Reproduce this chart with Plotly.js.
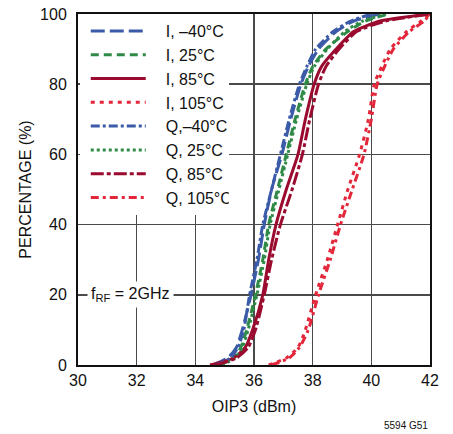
<!DOCTYPE html>
<html>
<head>
<meta charset="utf-8">
<script src="https://cdn.plot.ly/plotly-3.0.1.min.js"></script>
<style>html,body{margin:0;padding:0;background:#fff;}#chart{width:453px;height:434px;}</style>
</head>
<body>
<div id="chart"></div>
<script>
// Cumulative percentage levels
var percentLevels = [0, 2, 5, 10, 20, 30, 40, 50, 60, 70, 80, 85, 90, 95, 98, 100];
// OIP3 (dBm) at each percentage level, per series
var iMinus40 = [34.6, 35.1, 35.4, 35.6, 35.9, 36.15, 36.35, 36.6, 36.95, 37.25, 37.6, 37.85, 38.2, 38.8, 39.4, 40.3];
var i25      = [34.8, 35.3, 35.55, 35.75, 36.05, 36.3, 36.5, 36.8, 37.1, 37.4, 37.75, 38.0, 38.45, 39.2, 39.8, 40.6];
var i85      = [34.5, 35.3, 35.7, 35.95, 36.3, 36.5, 36.75, 37.1, 37.5, 37.75, 38.05, 38.3, 38.8, 39.4, 40.3, 42.0];
var i105     = [36.5, 37.1, 37.5, 37.75, 38.1, 38.5, 38.85, 39.2, 39.6, 39.9, 40.1, 40.35, 40.65, 41.2, 41.7, 42.0];
var qMinus40 = [34.7, 35.2, 35.45, 35.65, 35.85, 36.1, 36.3, 36.6, 36.9, 37.2, 37.55, 37.8, 38.1, 38.7, 39.3, 40.0];
var q25      = [34.9, 35.35, 35.6, 35.8, 36.1, 36.35, 36.55, 36.85, 37.15, 37.45, 37.8, 38.05, 38.5, 39.1, 39.7, 40.5];
var q85      = [34.7, 35.4, 35.8, 36.05, 36.35, 36.6, 36.9, 37.3, 37.65, 37.9, 38.2, 38.45, 38.9, 39.5, 40.5, 42.0];
var q105     = [36.6, 37.2, 37.55, 37.85, 38.2, 38.6, 38.95, 39.35, 39.75, 40.0, 40.2, 40.45, 40.75, 41.3, 41.8, 42.0];

var seriesNames = ["I, \u201340\u00b0C", "I, 25\u00b0C", "I, 85\u00b0C", "I, 105\u00b0C",
                   "Q,\u201340\u00b0C", "Q, 25\u00b0C", "Q, 85\u00b0C", "Q, 105\u00b0C"];
var seriesData = [iMinus40, i25, i85, i105, qMinus40, q25, q85, q105];
var xTicks = [30, 32, 34, 36, 38, 40, 42];
var yTicks = [0, 20, 40, 60, 80, 100];

var BLUE = "#3b5ba9", GREEN = "#2f8a47", DRED = "#9a0b2f", RED = "#e3263a";
var styles = [
  {color: BLUE,  dash: "14px,5px"},
  {color: GREEN, dash: "8px,5px"},
  {color: DRED,  dash: "solid"},
  {color: RED,   dash: "4px,5px"},
  {color: BLUE,  dash: "9px,3px,3px,3px"},
  {color: GREEN, dash: "3px,3px"},
  {color: DRED,  dash: "13px,3px,4px,3px"},
  {color: RED,   dash: "8px,4px,3px,4px"}
];

var traces = seriesData.map(function (xs, k) {
  return {
    x: xs, y: percentLevels, name: seriesNames[k], type: "scatter", mode: "lines",
    line: {color: styles[k].color, dash: styles[k].dash, width: 3, shape: "spline", smoothing: 0.6}
  };
});

var FONT = "Liberation Sans, Arial, Helvetica, sans-serif";
var layout = {
  width: 453, height: 434,
  margin: {l: 78, r: 23, t: 14, b: 69},
  paper_bgcolor: "#fff", plot_bgcolor: "#fff",
  font: {family: FONT, size: 16, color: "#111"},
  showlegend: true,
  legend: {
    x: 0.005, y: 1.0, xanchor: "left", yanchor: "top",
    bgcolor: "#fff", borderwidth: 0, tracegroupgap: 0,
    font: {family: FONT, size: 16, color: "#111"},
    itemwidth: 68
  },
  xaxis: {
    range: [30, 42], tickvals: xTicks, ticktext: xTicks.map(String),
    showgrid: true, gridcolor: "#4a4a4a", gridwidth: 1.5,
    showline: true, linecolor: "#111", linewidth: 2, mirror: true,
    ticks: "", zeroline: false, tickfont: {size: 16},
    title: {text: "OIP3 (dBm)", font: {size: 16}, standoff: 13}
  },
  yaxis: {
    range: [0, 100], tickvals: yTicks, ticktext: yTicks.map(String),
    showgrid: true, gridcolor: "#4a4a4a", gridwidth: 1.5,
    showline: true, linecolor: "#111", linewidth: 2, mirror: true,
    ticks: "", zeroline: false, tickfont: {size: 16}, ticklabelstandoff: 6,
    title: {text: "PERCENTAGE (%)", font: {size: 16}, standoff: 4}
  },
  annotations: [
    {xref: "x", yref: "y", x: 30.3, y: 20, xanchor: "left", yanchor: "middle", showarrow: false,
     text: "f<sub>RF</sub> = 2GHz", bgcolor: "#fff", font: {size: 16}, borderpad: 3},
    {xref: "paper", yref: "paper", x: 1.0, y: -0.15, xanchor: "right", yanchor: "top", showarrow: false,
     text: "5594 G51", font: {size: 10}}
  ]
};

Plotly.newPlot("chart", traces, layout, {displayModeBar: false, staticPlot: true}).then(function (gd) {
  gd.querySelectorAll(".legend .legendlines path").forEach(function (p) {
    p.setAttribute("d", "M11,0h55");
  });
  gd.querySelectorAll(".legend text.legendtext").forEach(function (t) {
    var x = parseFloat(t.getAttribute("x")) || 0;
    t.setAttribute("x", x + 8);
  });
});
</script>
</body>
</html>
